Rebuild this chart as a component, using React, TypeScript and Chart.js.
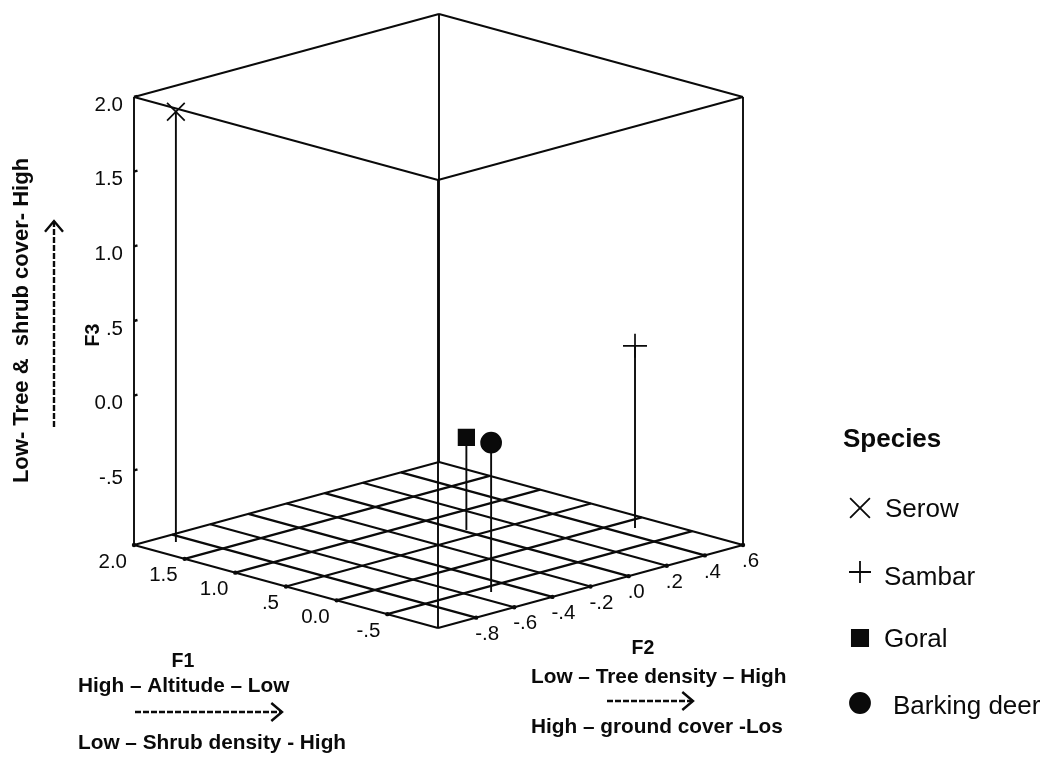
import React, { useEffect, useRef } from "react";
import { Chart, registerables } from "chart.js";
import { drawPoint } from "chart.js/helpers";

Chart.register(...registerables);

// ---- data ----
const speciesNames = ["Serow", "Sambar", "Goral", "Barking deer"];
const f1Values = [1.85, -0.16, 0.635, -0.61];
const f2Values = [-0.86, 0.48, 0.018, -0.514];
const f3Values = [1.88, 0.22, -0.38, 0.0];

const f1Ticks = [2.0, 1.5, 1.0, 0.5, 0.0, -0.5];
const f1TickLabels = ["2.0", "1.5", "1.0", ".5", "0.0", "-.5"];
const f2Ticks = [-0.8, -0.6, -0.4, -0.2, 0.0, 0.2, 0.4, 0.6];
const f2TickLabels = ["-.8", "-.6", "-.4", "-.2", ".0", ".2", ".4", ".6"];
const f3Ticks = [2.0, 1.5, 1.0, 0.5, 0.0, -0.5];
const f3TickLabels = ["2.0", "1.5", "1.0", ".5", "0.0", "-.5"];

const f1Range = [-1, 2];
const f2Range = [-1, 0.6];
const f3Range = [-1, 2];

// ---- oblique projection of the cube onto the page ----
const W = 1055;
const H = 758;
const INK = "#0a0a0a";
const SANS = '"Liberation Sans", Arial, sans-serif';

function project(f1: number, f2: number, f3: number) {
  const u = (f1 - f1Range[0]) / (f1Range[1] - f1Range[0]);
  const v = (f2 - f2Range[0]) / (f2Range[1] - f2Range[0]);
  const w = (f3 - f3Range[0]) / (f3Range[1] - f3Range[0]);
  return {
    x: 438 - 304 * u + 305 * v,
    y: 628 - 83 * u - 83 * v - 448 * w,
  };
}

const styles = ["crossRot", "cross", "rect", "circle"];
const radii = [12.5, 12, 11, 10];

function App() {
  const ref = useRef<HTMLCanvasElement | null>(null);

  useEffect(() => {
    document.body.style.margin = "0";
    const [f1a, f1b] = f1Range;
    const [f2a, f2b] = f2Range;
    const [f3a, f3b] = f3Range;
    const seg = (a: number[], b: number[], bw: number) => ({
      type: "line",
      data: [project(a[0], a[1], a[2]), project(b[0], b[1], b[2])],
      borderColor: INK,
      borderWidth: bw,
      pointRadius: 0,
      showLine: true,
      fill: false,
    });
    const datasets: any[] = [];
    // floor grid
    [f1a, ...f1Ticks].forEach((t) => datasets.push(seg([t, f2a, f3a], [t, f2b, f3a], 2.2)));
    [f2a, ...f2Ticks].forEach((t) => datasets.push(seg([f1a, t, f3a], [f1b, t, f3a], 2.2)));
    // cage
    const corners = [
      [f1b, f2a],
      [f1a, f2a],
      [f1a, f2b],
      [f1b, f2b],
    ];
    corners.forEach((c, i) => {
      const n = corners[(i + 1) % 4];
      datasets.push(seg([c[0], c[1], f3a], [c[0], c[1], f3b], 1.9));
      datasets.push(seg([c[0], c[1], f3b], [n[0], n[1], f3b], 1.9));
    });
    // species stems with markers
    speciesNames.forEach((name, i) => {
      datasets.push({
        type: "line",
        label: name,
        data: [
          project(f1Values[i], f2Values[i], f3Range[0]),
          project(f1Values[i], f2Values[i], f3Values[i]),
        ],
        borderColor: INK,
        backgroundColor: INK,
        borderWidth: 1.9,
        showLine: true,
        fill: false,
        pointStyle: styles[i],
        pointRadius: [0, radii[i]],
        pointBorderWidth: 1.7,
        pointBorderColor: INK,
        pointBackgroundColor: INK,
      });
    });

    const text = (
      ctx: CanvasRenderingContext2D,
      s: string,
      x: number,
      y: number,
      font: string,
      align: CanvasTextAlign = "left"
    ) => {
      ctx.font = font;
      ctx.textAlign = align;
      ctx.textBaseline = "middle";
      ctx.fillText(s, x, y);
    };
    const arrow = (
      ctx: CanvasRenderingContext2D,
      x0: number,
      y0: number,
      x1: number,
      y1: number,
      head: number
    ) => {
      ctx.save();
      ctx.lineWidth = 2.4;
      ctx.setLineDash([6, 2]);
      ctx.beginPath();
      ctx.moveTo(x0, y0);
      ctx.lineTo(x1, y1);
      ctx.stroke();
      ctx.setLineDash([]);
      const a = Math.atan2(y1 - y0, x1 - x0);
      ctx.beginPath();
      ctx.moveTo(x1 - head * Math.cos(a - 0.7), y1 - head * Math.sin(a - 0.7));
      ctx.lineTo(x1, y1);
      ctx.lineTo(x1 - head * Math.cos(a + 0.7), y1 - head * Math.sin(a + 0.7));
      ctx.stroke();
      ctx.restore();
    };

    const annotations = {
      id: "annotations",
      afterDraw(chart: any) {
        const ctx: CanvasRenderingContext2D = chart.ctx;
        const sx = chart.scales.x;
        const sy = chart.scales.y;
        ctx.save();
        ctx.fillStyle = INK;
        ctx.strokeStyle = INK;
        const tickFont = `20.5px ${SANS}`;
        const boldFont = `bold 20.8px ${SANS}`;
        const axisFont = `bold 19.5px ${SANS}`;
        const dot = (x: number, y: number) => {
          ctx.beginPath();
          ctx.arc(x, y, 2.2, 0, Math.PI * 2);
          ctx.fill();
        };
        // F3 ticks
        f3Ticks.forEach((t, i) => {
          const p = project(f1b, f2a, t);
          const px = sx.getPixelForValue(p.x);
          const py = sy.getPixelForValue(p.y);
          ctx.lineWidth = 2.5;
          ctx.beginPath();
          ctx.moveTo(px, py);
          ctx.lineTo(px + 3.5, py - 1);
          ctx.stroke();
          text(ctx, f3TickLabels[i], px - 11, py + 8, tickFont, "right");
        });
        // F1 ticks
        f1Ticks.forEach((t, i) => {
          const p = project(t, f2a, f3a);
          const px = sx.getPixelForValue(p.x);
          const py = sy.getPixelForValue(p.y);
          dot(px, py);
          text(ctx, f1TickLabels[i], px - 7, py + 17, tickFont, "right");
        });
        // F2 ticks
        f2Ticks.forEach((t, i) => {
          const p = project(f1a, t, f3a);
          const px = sx.getPixelForValue(p.x);
          const py = sy.getPixelForValue(p.y);
          dot(px, py);
          text(ctx, f2TickLabels[i], px - 1, py + 16.5, tickFont, "left");
        });
        // F1 title
        text(ctx, "F1", 183, 662, axisFont, "center");
        text(ctx, "High \u2013 Altitude \u2013 Low", 78, 686, boldFont);
        arrow(ctx, 135, 712, 282, 712, 14);
        text(ctx, "Low \u2013 Shrub density - High", 78, 743, boldFont);
        // F2 title
        text(ctx, "F2", 643, 649, axisFont, "center");
        text(ctx, "Low \u2013 Tree density \u2013 High", 531, 677, boldFont);
        arrow(ctx, 607, 701, 693, 701, 14);
        text(ctx, "High \u2013 ground cover -Los", 531, 727, boldFont);
        // F3 title
        ctx.save();
        ctx.translate(94, 335);
        ctx.rotate(-Math.PI / 2);
        text(ctx, "F3", 0, 0, axisFont, "center");
        ctx.restore();
        ctx.save();
        ctx.translate(22, 320.5);
        ctx.rotate(-Math.PI / 2);
        text(ctx, "Low- Tree &  shrub cover- High", 0, 0, `bold 22px ${SANS}`, "center");
        ctx.restore();
        arrow(ctx, 54, 427, 54, 221, 14);
        // Legend
        text(ctx, "Species", 843, 440, `bold 26px ${SANS}`);
        const legendY = [508, 572, 638, 703];
        const legendR = [14, 11, 11.5, 10];
        const labelX = [885, 884, 884, 893];
        const labelY = [510, 578, 640, 707];
        speciesNames.forEach((name, i) => {
          ctx.lineWidth = 1.8;
          drawPoint(ctx, { pointStyle: styles[i] as any, radius: legendR[i], borderWidth: 1.8 } as any, 860, legendY[i]);
          if (i > 1) ctx.fill();
          text(ctx, name, labelX[i], labelY[i], `26px ${SANS}`);
        });
        ctx.restore();
      },
    };

    const chart = new Chart(ref.current as HTMLCanvasElement, {
      type: "scatter",
      data: { datasets },
      plugins: [annotations],
      options: {
        animation: false,
        responsive: false,
        layout: { padding: 0, autoPadding: false },
        plugins: { legend: { display: false }, tooltip: { enabled: false } },
        scales: {
          x: { type: "linear", min: 0, max: W, display: false },
          y: { type: "linear", min: 0, max: H, reverse: true, display: false },
        },
      },
    } as any);
    return () => chart.destroy();
  }, []);

  return (
    <div style={{ position: "relative", width: W, height: H, background: "#fff" }}>
      <canvas ref={ref} width={W} height={H} style={{ display: "block" }} />
    </div>
  );
}

export default App;
